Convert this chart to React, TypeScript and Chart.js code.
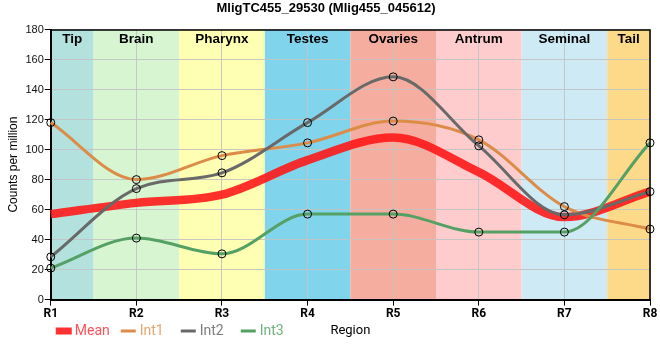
import { useEffect, useRef } from 'react';
import { Chart, registerables } from 'chart.js';

Chart.register(...registerables);

const categories = ['R1', 'R2', 'R3', 'R4', 'R5', 'R6', 'R7', 'R8'];
const regionNames = ['Tip', 'Brain', 'Pharynx', 'Testes', 'Ovaries', 'Antrum', 'Seminal', 'Tail'];
const regionColors = ['#b3e2de', '#d7f5d0', '#ffffb3', '#80d4ec', '#f5ad9f', '#fecccc', '#ceebf5', '#fdda8a'];

const meanValues = [57, 64.5, 70, 93, 108, 85, 55, 72];
const int1Values = [118, 80, 96, 104.5, 119, 106.5, 62, 47];
const int2Values = [28.5, 74, 84.5, 118, 148.5, 102.5, 56.5, 72];
const int3Values = [21, 41, 30.5, 57, 57, 45, 45, 104.5];

const seriesNames = ['Mean', 'Int1', 'Int2', 'Int3'];
const seriesColors = ['rgba(255,20,20,0.88)', 'rgb(221,140,72)', 'rgb(105,105,105)', 'rgb(85,160,100)'];
const legendTextColors = ['rgb(255,80,90)', 'rgb(232,165,105)', 'rgb(125,125,125)', 'rgb(110,180,125)'];

const yTitle = 'Counts per million';
const xTitle = 'Region';
const chartTitle = 'MligTC455_29530 (Mlig455_045612)';

export default function App() {
  const ref = useRef<HTMLCanvasElement>(null);

  useEffect(() => {
    document.body.style.margin = '0';
    const canvas = ref.current;
    if (!canvas) return;

    const decorPlugin = {
      id: 'decor',
      beforeDraw(chart: any) {
        const { ctx, chartArea, scales } = chart;
        const x = scales.x;
        const step = x.getPixelForValue(1) - x.getPixelForValue(0);
        ctx.save();
        regionColors.forEach((c, i) => {
          const cx = x.getPixelForValue(i);
          const l = Math.max(chartArea.left, cx - step / 2);
          const r = Math.min(chartArea.right, cx + step / 2);
          ctx.fillStyle = c;
          ctx.fillRect(l, chartArea.top, r - l, chartArea.bottom - chartArea.top);
        });
        ctx.restore();
      },
      afterDatasetsDraw(chart: any) {
        const { ctx, chartArea, scales } = chart;
        const x = scales.x;
        const step = x.getPixelForValue(1) - x.getPixelForValue(0);
        ctx.save();
        ctx.font = 'bold 13.5px "Liberation Sans", Arial, sans-serif';
        ctx.fillStyle = '#000';
        ctx.textAlign = 'center';
        ctx.textBaseline = 'middle';
        regionNames.forEach((n, i) => {
          const cx = x.getPixelForValue(i);
          const l = Math.max(chartArea.left, cx - step / 2);
          const r = Math.min(chartArea.right, cx + step / 2);
          ctx.fillText(n, (l + r) / 2, chartArea.top + 10);
        });
        // top and right border
        ctx.strokeStyle = '#000';
        ctx.lineWidth = 1.5;
        ctx.beginPath();
        ctx.moveTo(chartArea.left, chartArea.top + 0.5);
        ctx.lineTo(chartArea.right, chartArea.top + 0.5);
        ctx.lineTo(chartArea.right, chartArea.bottom);
        ctx.stroke();
        ctx.restore();
      },
      afterDraw(chart: any) {
        const { ctx, chartArea } = chart;
        ctx.save();
        const y = 331;
        const offsets = [5, 70, 130, 190];
        ctx.font = '14px Roboto, sans-serif';
        ctx.textBaseline = 'middle';
        ctx.textAlign = 'left';
        seriesNames.forEach((n, i) => {
          const x0 = chartArea.left + offsets[i];
          ctx.fillStyle = seriesColors[i];
          if (i === 0) ctx.fillRect(x0, y - 3.5, 16, 7);
          else ctx.fillRect(x0, y - 1.5, 15, 3);
          ctx.fillStyle = legendTextColors[i];
          ctx.fillText(n, x0 + 19, y);
        });
        ctx.font = '13px Roboto, sans-serif';
        ctx.fillStyle = '#000';
        ctx.textAlign = 'center';
        ctx.fillText(xTitle, (chartArea.left + chartArea.right) / 2, y);
        ctx.restore();
      },
    };

    const mk = (label: string, data: number[], i: number, width: number, pts: boolean) => ({
      label,
      data,
      borderColor: seriesColors[i],
      backgroundColor: seriesColors[i],
      borderWidth: width,
      fill: false,
      cubicInterpolationMode: 'monotone' as const,
      pointRadius: pts ? 4 : 0,
      pointHoverRadius: pts ? 4 : 0,
      pointBorderColor: '#000',
      pointBackgroundColor: 'rgba(0,0,0,0)',
      pointBorderWidth: 1,
    });

    const chart = new Chart(canvas, {
      type: 'line',
      data: {
        labels: categories,
        datasets: [
          mk('Int3', int3Values, 3, 3, true),
          mk('Int2', int2Values, 2, 3, true),
          mk('Int1', int1Values, 1, 3, true),
          mk('Mean', meanValues, 0, 8.5, false),
        ],
      },
      options: {
        responsive: false,
        animation: false,
        layout: { padding: { left: 2, right: 10, top: 0, bottom: 38 } },
        plugins: {
          legend: { display: false },
          tooltip: { enabled: false },
          title: {
            display: true,
            text: chartTitle,
            color: '#000',
            font: { family: '"Liberation Sans", Arial, sans-serif', size: 13, weight: 'bold' },
            padding: { top: 1, bottom: 13 },
          },
        },
        scales: {
          x: {
            type: 'category',
            offset: false,
            grid: { color: 'rgba(195,195,195,0.9)', lineWidth: 1, tickLength: 6, drawTicks: true, tickColor: '#000' },
            border: { color: '#000', width: 2 },
            ticks: {
              color: '#000',
              padding: 1,
              font: { family: 'Roboto, sans-serif', size: 12, weight: 'bold' },
              maxRotation: 0,
            },
          },
          y: {
            min: 0,
            max: 180,
            grid: { color: 'rgba(195,195,195,0.9)', lineWidth: 1, tickLength: 6, tickColor: '#000' },
            border: { color: '#000', width: 2 },
            ticks: {
              stepSize: 20,
              color: '#111',
              padding: 1,
              font: { family: '"Liberation Sans", Arial, sans-serif', size: 11 },
            },
            title: {
              display: true,
              text: yTitle,
              color: '#000',
              font: { family: '"Liberation Sans", Arial, sans-serif', size: 12 },
              padding: { top: 4, bottom: 4 },
            },
          },
        },
      },
      plugins: [decorPlugin],
    });
    return () => chart.destroy();
  }, []);

  return (
    <div style={{ width: 660, height: 360 }}>
      <canvas ref={ref} width={660} height={360} style={{ display: 'block' }} />
    </div>
  );
}
